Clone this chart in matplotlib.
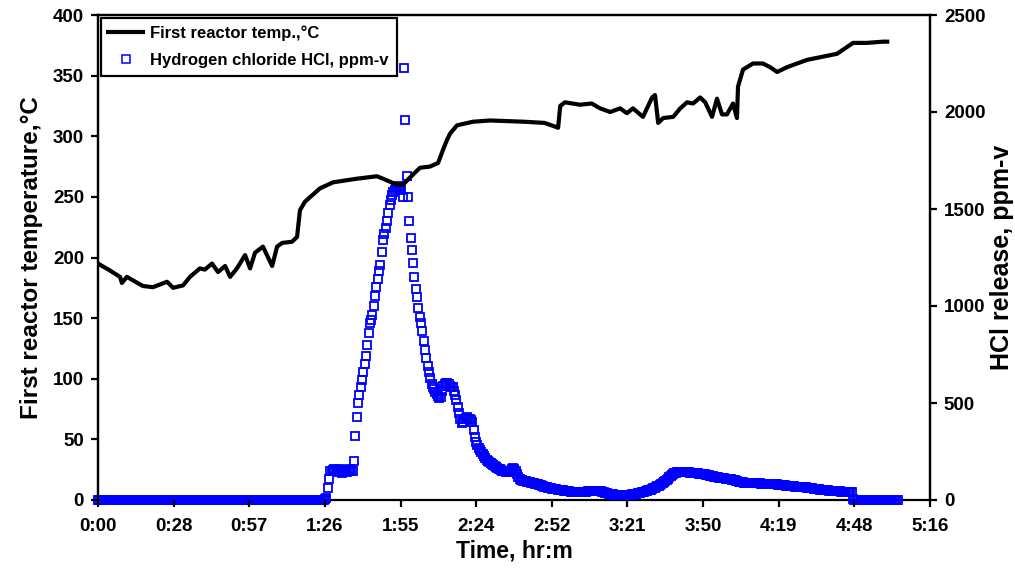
import numpy as np
import matplotlib
matplotlib.use("Agg")
import matplotlib.pyplot as plt
from matplotlib.lines import Line2D

plt.rcParams['font.family'] = ['Liberation Sans', 'DejaVu Sans']
plt.rcParams['font.weight'] = 'bold'

# first reactor temperature, time in minutes
temp_time = [0, 4, 8.4, 9.1, 11.0, 17.1, 20.9, 26.3, 28.6, 32.4,
             35.0, 38.8, 40.7, 43.4, 45.7, 48.4, 50.3, 52.9, 56.0, 57.9,
             59.8, 62.8, 66.3, 68.2, 70.1, 73.9, 75.8, 76.9, 78.8, 84.5,
             89.5, 98.6, 106.2, 108.5, 113.9, 116.1, 118.8, 122.6, 126.4, 129.5,
             131.4, 132.9, 134.0, 136.7, 142.8, 149.3, 162.0, 170.0, 174.0, 175.2,
             176.0, 177.8, 183.5, 188.0, 191.2, 195.0, 198.8, 201.4, 203.7, 207.5,
             211.0, 212.1, 213.3, 215.2, 219.0, 221.7, 224.3, 226.6, 229.3, 231.2,
             233.8, 235.7, 237.6, 239.5, 241.8, 243.3, 243.7, 245.6, 249.4, 253.2,
             255.9, 258.6, 262.4, 270.0, 281.4, 287.5, 292.8, 298.9, 300.5]
temp_c = [195, 190, 184, 179, 184, 176.5, 175.5, 180, 175, 177,
          184, 191, 190, 195, 188, 193, 184, 191, 202, 191,
          204, 209, 193, 209, 212, 213, 217, 239, 246, 257,
          262, 265, 267, 265, 260, 260, 266, 274, 275, 278,
          289, 297, 302, 309, 312, 313, 312, 311, 308, 307,
          325, 328, 326, 327, 323, 320, 323, 319, 323, 316,
          332, 334, 311, 315, 316, 323, 328, 327, 332, 328,
          316, 331, 318, 318, 327, 315, 341, 355, 360, 360,
          357, 353, 357, 363, 368, 377, 377, 378, 378]

# HCl release, ppm-v, logged every 0.5 min from 0:00
hcl_step_min = 0.5
hcl_ppm = [
    2, 2, 2, 2, 2, 2, 2, 2, 2, 2, 2, 2, 2, 2, 2, 2, 2, 2, 2, 2,
    2, 2, 2, 2, 2, 2, 2, 2, 2, 2, 2, 2, 2, 2, 2, 2, 2, 2, 2, 2,
    2, 2, 2, 2, 2, 2, 2, 2, 2, 2, 2, 2, 2, 2, 2, 2, 2, 2, 2, 2,
    2, 2, 2, 2, 2, 2, 2, 2, 2, 2, 2, 2, 2, 2, 2, 2, 2, 2, 2, 2,
    2, 2, 2, 2, 2, 2, 2, 2, 2, 2, 2, 2, 2, 2, 2, 2, 2, 2, 2, 2,
    2, 2, 2, 2, 2, 2, 2, 2, 2, 2, 2, 2, 2, 2, 2, 2, 2, 2, 2, 2,
    2, 2, 2, 2, 2, 2, 2, 2, 2, 2, 2, 2, 2, 2, 2, 2, 2, 2, 2, 2,
    2, 2, 2, 2, 2, 2, 2, 2, 2, 2, 2, 2, 2, 2, 2, 2, 2, 2, 2, 2,
    2, 2, 2, 2, 2, 2, 2, 2, 2, 2, 2, 2, 2, 5, 10, 60, 110, 150, 150, 155,
    160, 150, 145, 155, 160, 150, 140, 150, 155, 150, 145, 150, 160, 155, 150, 200, 330, 430, 500, 540,
    580, 620, 660, 700, 740, 800, 860, 910, 930, 955, 1000, 1050, 1100, 1140, 1180, 1210, 1280, 1340, 1370, 1400,
    1440, 1480, 1520, 1545, 1570, 1590, 1600, 1610, 1615, 1620, 1610, 1600, 1560, 2227, 1959, 1670, 1560, 1440, 1350, 1290,
    1220, 1150, 1090, 1045, 990, 945, 910, 870, 820, 775, 730, 690, 660, 630, 600, 585, 570, 555, 545, 535,
    526, 530, 560, 590, 600, 605, 603, 600, 590, 585, 580, 560, 540, 515, 480, 450, 420, 397, 400, 415,
    425, 428, 420, 415, 412, 400, 360, 325, 300, 285, 270, 258, 245, 235, 225, 215, 208, 200, 195, 190,
    185, 180, 175, 170, 166, 162, 158, 155, 152, 149, 147, 145, 144, 143, 150, 160, 165, 160, 150, 135,
    120, 110, 104, 102, 100, 98, 96, 95, 93, 92, 90, 88, 86, 84, 82, 80, 78, 76, 74, 72,
    68, 66, 65, 64, 62, 61, 59, 58, 56, 55, 54, 53, 51, 50, 49, 48, 47, 46, 45, 44,
    43, 42, 41, 41, 40, 40, 40, 40, 41, 41, 42, 42, 43, 44, 45, 46, 46, 46, 46, 46,
    46, 46, 45, 44, 42, 40, 38, 36, 34, 32, 31, 30, 29, 28, 28, 27, 27, 26, 26, 26,
    26, 26, 26, 26, 27, 27, 28, 29, 30, 31, 32, 34, 35, 37, 39, 41, 43, 46, 48, 50,
    52, 54, 57, 60, 63, 66, 70, 74, 78, 83, 88, 93, 98, 104, 110, 117, 124, 130, 135, 138,
    140, 142, 143, 144, 144, 144, 144, 143, 143, 142, 142, 141, 140, 140, 139, 139, 138, 137, 136, 135,
    134, 133, 132, 131, 130, 128, 126, 124, 122, 120, 118, 117, 116, 115, 114, 113, 112, 111, 110, 109,
    108, 107, 106, 105, 104, 103, 100, 97, 95, 93, 92, 91, 90, 90, 89, 89, 88, 88, 88, 87,
    87, 87, 86, 86, 86, 85, 85, 85, 84, 84, 83, 83, 82, 82, 81, 81, 80, 80, 79, 78,
    77, 76, 75, 75, 74, 73, 72, 72, 71, 70, 70, 69, 69, 68, 68, 67, 67, 66, 66, 65,
    64, 63, 62, 61, 60, 59, 58, 57, 56, 55, 54, 53, 52, 51, 50, 50, 49, 48, 47, 47,
    46, 46, 45, 45, 44, 44, 43, 43, 42, 42, 42, 41, 41, 41, 40, 5, 2, 2, 2, 2,
    2, 2, 2, 2, 2, 2, 2, 2, 2, 2, 2, 2, 2, 2, 2, 2, 2, 2, 2, 2,
    2, 2, 2, 2, 2, 2, 2, 2, 2, 2,
]
hcl_time = np.arange(len(hcl_ppm)) * hcl_step_min

x_ticks_min = [0, 28.8, 57.6, 86.4, 115.2, 144.0, 172.8, 201.6, 230.4, 259.2, 288.0, 316.8]
x_tick_labels = ['0:00', '0:28', '0:57', '1:26', '1:55', '2:24', '2:52',
                 '3:21', '3:50', '4:19', '4:48', '5:16']

fig = plt.figure(figsize=(10.15, 5.72), dpi=100)
ax = fig.add_axes([98 / 1015, 1 - 500 / 572, 832 / 1015, 485 / 572])
ax2 = ax.twinx()

mk = dict(linestyle='none', marker='s', markersize=6.2, markerfacecolor='none',
          markeredgecolor='#0000ff', markeredgewidth=1.3)
ax2.plot(hcl_time, hcl_ppm, clip_on=False, zorder=3, **mk)
ax.plot(temp_time, temp_c, color='black', linewidth=3.0, solid_joinstyle='round')

# temperature line above the markers, markers above the bottom axis line
ax.set_zorder(ax2.get_zorder() + 1)
ax.patch.set_visible(False)
ax.spines['bottom'].set_visible(False)

ax.set_xlim(0, 316.8)
ax.set_ylim(0, 400)
ax2.set_ylim(0, 2500)
ax.set_xticks(x_ticks_min)
ax.set_xticklabels(x_tick_labels)
ax.set_yticks(range(0, 401, 50))
ax2.set_yticks(range(0, 2501, 500))

for a in (ax, ax2):
    for s in a.spines.values():
        s.set_linewidth(1.6)
    a.tick_params(direction='out', length=5, width=1.6, labelsize=13.5, pad=5)
ax.tick_params(axis='x', pad=8)

ax.set_xlabel('Time, hr:m', fontsize=16.5, fontweight='bold', labelpad=3)
ax.set_ylabel('First reactor temperature,°C', fontsize=17.5, fontweight='bold', labelpad=7)
ax2.set_ylabel('HCl release, ppm-v', fontsize=18, fontweight='bold', labelpad=3)

handles = [Line2D([], [], color='black', linewidth=3.0),
           Line2D([], [], linestyle='none', marker='s', markersize=5.8, markerfacecolor='none',
                  markeredgecolor='#0000ff', markeredgewidth=1.1)]
leg = ax.legend(handles, ['First reactor temp.,°C', 'Hydrogen chloride HCl, ppm-v'],
                loc='upper left', bbox_to_anchor=(0.0, 1.0), borderaxespad=0.15,
                fancybox=False, framealpha=1, edgecolor='black', fontsize=12,
                handlelength=2.1, handletextpad=0.45, borderpad=0.45, labelspacing=0.75)
leg.get_frame().set_linewidth(1.6)

fig.savefig('out.png', dpi=100)
